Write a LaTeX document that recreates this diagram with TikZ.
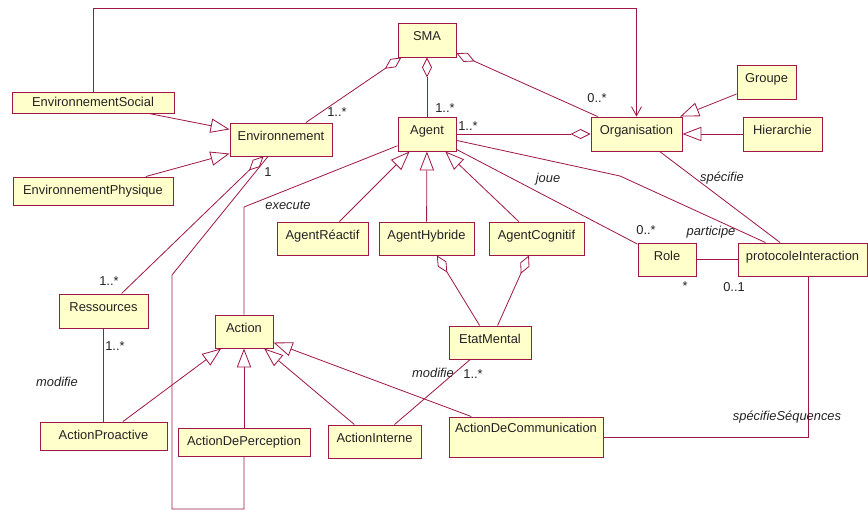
\documentclass[tikz,border=0pt]{standalone}
\usepackage{fontspec}
\setmainfont{Liberation Sans}
\usepackage{tikz}
\usetikzlibrary{arrows.meta,calc}
\definecolor{umlline}{RGB}{160,25,70}
\definecolor{umlfill}{RGB}{255,255,204}
\definecolor{umltext}{RGB}{35,35,35}

\begin{document}
\begin{tikzpicture}[
      x=0.03cm, y=-0.03cm,
      cls/.style={draw=umlline,line width=0.8pt,fill=umlfill,text=umltext,inner sep=0pt,
        font=\fontsize{11}{13}\selectfont,text height=2.8mm,text depth=2.4mm},
      flat/.style={text depth=0.6mm},
      sz/.style 2 args={minimum width=#1*0.03cm,minimum height=#2*0.03cm},
      lnk/.style={draw=umlline,line width=0.7pt},
      gen/.style={lnk,-{Triangle[open,length=5.7mm,width=4.3mm]}},
      agg/.style={lnk,{Diamond[open,length=6mm,width=3mm]}-},
      nav/.style={lnk,-{Straight Barb[length=2.7mm,width=3mm]}},
      lbl/.style={text=umltext,inner sep=0pt,font=\fontsize{11}{13}\selectfont},
      asc/.style={lbl,font=\fontsize{11}{13}\selectfont\itshape}
    ]
    \useasboundingbox (0,0) rectangle (868,511);

    \node[cls,sz={58}{34}] (sma) at (427,40) {SMA};
    \node[cls,flat,sz={162}{21}] (envsoc) at (93,102.5) {EnvironnementSocial};
    \node[cls,flat,sz={160}{28}] (envphys) at (93,191) {EnvironnementPhysique};
    \node[cls,sz={102}{33}] (env) at (281,139.5) {Environnement};
    \node[cls,sz={58}{34}] (agent) at (427,134) {Agent};
    \node[cls,sz={91}{34}] (org) at (636.5,134) {Organisation};
    \node[cls,sz={59}{34}] (groupe) at (766.5,82) {Groupe};
    \node[cls,sz={79}{34}] (hier) at (782.5,134) {Hierarchie};
    \node[cls,sz={91}{33}] (reactif) at (322.5,238.5) {AgentRéactif};
    \node[cls,sz={95}{33}] (hybride) at (426.5,238.5) {AgentHybride};
    \node[cls,sz={95}{33}] (cognitif) at (536.5,238.5) {AgentCognitif};
    \node[cls,sz={58}{33}] (role) at (667,259.5) {Role};
    \node[cls,sz={129}{33}] (proto) at (802.5,259.5) {protocoleInteraction};
    \node[cls,sz={89}{34}] (res) at (103.5,311) {Ressources};
    \node[cls,sz={58}{33}] (action) at (244,331.5) {Action};
    \node[cls,sz={82}{33}] (etat) at (490,342.5) {EtatMental};
    \node[cls,flat,sz={127}{28}] (proactive) at (103.5,436) {ActionProactive};
    \node[cls,flat,sz={132}{28}] (percep) at (244,442) {ActionDePerception};
    \node[cls,sz={93}{33}] (interne) at (374.5,441.5) {ActionInterne};
    \node[cls,sz={154}{40},text depth=5.4mm] (comm) at (526,437) {ActionDeCommunication};

    % bend points
    \coordinate (ceil) at (0,8);
    \coordinate (exec) at (244,207);
    \coordinate (partbend) at (620,176);
    \coordinate (lpa) at (172,275);
    \coordinate (lpb) at (172,509);

    % heritage
    \draw[gen] (envsoc) -- (env);
    \draw[gen] (envphys) -- (env);
    \draw[gen] (groupe) -- (org);
    \draw[gen] (hier) -- (org);
    \draw[gen] (reactif) -- (agent);
    \draw[gen] (hybride) -- (agent);
    \draw[gen] (cognitif) -- (agent);
    \draw[gen] (proactive) -- (action);
    \draw[gen] (percep) -- (action);
    \draw[gen] (interne) -- (action);
    \draw[gen] (comm) -- (action);

    % agregations
    \draw[agg] (sma) -- (env);
    \draw[agg] (sma) -- (agent);
    \draw[agg] (sma) -- (org);
    \draw[agg] (org) -- (agent);
    \draw[agg] (env) -- (res);
    \draw[agg] (hybride) -- (etat);
    \draw[agg] (cognitif) -- (etat);

    % associations
    \draw[nav] (envsoc.north) |- (org.north |- ceil) -- (org.north);
    \draw[lnk] (agent) -- (exec) -- (action);
    \draw[lnk] (agent) -- (role);
    \draw[lnk] (agent) -- (partbend) -- (proto);
    \draw[lnk] (org) -- (proto);
    \draw[lnk] (role) -- (proto);
    \draw[lnk] ($(proto.south)+(6,0)$) |- (comm.east);
    \draw[lnk] (res) -- (proactive);
    \draw[lnk] (etat) -- ($(interne.north)+(20,0)$);
    \draw[lnk] ($(env.south)+(-13,0)$) -- (lpa) -- (lpb) -| (percep.south);

    % multiplicites et roles
    \node[lbl] (m1) at (337,112) {1..*};
    \node[lbl] (m2) at (445,108) {1..*};
    \node[lbl] (m3) at (597,98) {0..*};
    \node[lbl] (m4) at (468,126) {1..*};
    \node[lbl] (m5) at (646,230) {0..*};
    \node[lbl] (m6) at (685,286) {*};
    \node[lbl] (m7) at (734,287) {0..1};
    \node[lbl] (m8) at (268,172) {1};
    \node[lbl] (m9) at (109,281) {1..*};
    \node[lbl] (m10) at (115,346) {1..*};
    \node[lbl] (m11) at (473,374) {1..*};
    \node[asc] (a1) at (722,178) {spécifie};
    \node[asc] (a2) at (548,179) {joue};
    \node[asc] (a3) at (711,232) {participe};
    \node[asc] (a4) at (787,417) {spécifieSéquences};
    \node[asc] (a5) at (288,205) {execute};
    \node[asc] (a6) at (57,382) {modifie};
    \node[asc] (a7) at (433,373) {modifie};
  \end{tikzpicture}
\end{document}
